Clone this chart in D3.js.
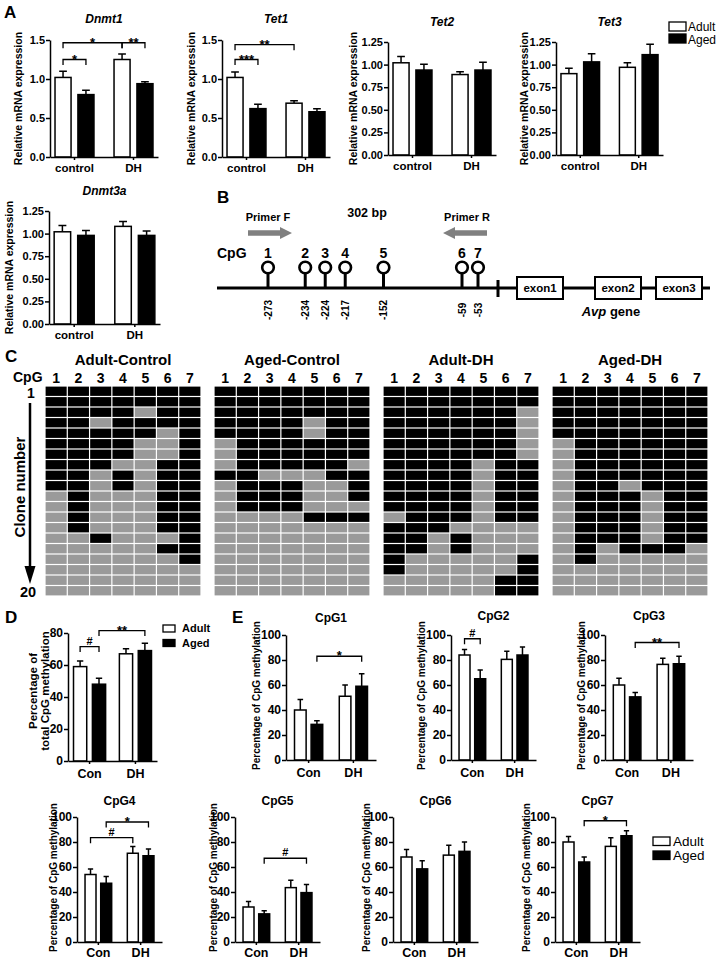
<!DOCTYPE html>
<html><head><meta charset="utf-8">
<script src="https://cdn.jsdelivr.net/npm/d3@7"></script>
<style>body{margin:0;background:#fff} svg{display:block}</style>
</head><body><svg id="fig" width="718" height="959"></svg>
<script>
// ================= DATA =================
const seriesNames = ["Adult","Aged"];
const groupsA = ["control","DH"];
const groupsE = ["Con","DH"];

// Panel A : relative mRNA expression, [control, DH]
const genes = ["Dnmt1","Tet1","Tet2","Tet3","Dnmt3a"];
const geneAdultMean = [[1.02,1.25],[1.02,0.69],[1.02,0.89],[0.90,0.97],[1.02,1.08]];
const geneAdultErr  = [[0.08,0.07],[0.07,0.03],[0.07,0.03],[0.06,0.05],[0.07,0.055]];
const geneAgedMean  = [[0.80,0.94],[0.62,0.58],[0.94,0.94],[1.03,1.11],[0.98,0.98]];
const geneAgedErr   = [[0.055,0.025],[0.055,0.04],[0.065,0.085],[0.09,0.115],[0.055,0.05]];
const geneYMax = [1.5,1.5,1.25,1.25,1.25];
const ticksA15 = [0,0.5,1.0,1.5];
const ticksA125 = [0,0.25,0.5,0.75,1.0,1.25];
// brackets: [fromBar, toBar, value, label]  bars: 0=Adult ctrl,1=Aged ctrl,2=Adult DH,3=Aged DH
const geneBrackets = [
  [[0,1,1.25,"*"],[0,2,1.465,"*"],[2,3,1.465,"**"]],
  [[0,1,1.25,"***"],[0,2,1.44,"**"]],
  [],[],[]
];

// Panel B : CpG sites in Avp promoter
const cpgSites = [1,2,3,4,5,6,7];
const cpgBp = [-273,-234,-224,-217,-152,-59,-53];
const exonNames = ["exon1","exon2","exon3"];

// Panel C : bisulfite clones (1 = methylated, 0 = unmethylated), 20 clones x 7 CpG
const gridTitles = ["Adult-Control","Aged-Control","Adult-DH","Aged-DH"];
const cloneAdultControl = ["1111111","1111111","1111011","1101111","1111101","1111001","1111001","1110011","1101011","1101011",
                           "0100011","0100011","0100011","0100011","0010001","0000011","0000001","0000000","0000000","0000000"];
const cloneAgedControl  = ["1111111","1111111","1111111","1111011","1111011","0111111","0111111","0111110","1100011","0111001",
                           "0111001","0111000","0000111","0000000","0000000","0000000","0000000","0000000","0000000","0000000"];
const cloneAdultDH      = ["1111111","1111111","1111110","1111110","1111110","1111110","1111110","1111011","1111011","1111011",
                           "1111011","1111011","0111011","1110000","1101000","1101000","1000001","1000001","0000011","0000011"];
const cloneAgedDH       = ["1111111","1111111","1111111","1111111","1111111","0111111","0111111","0111111","0111111","0110111",
                           "0111011","0111011","0111011","0111011","0111011","0101110","0100000","0000000","0000000","0000000"];

// Panel D : total CpG methylation (%) [Con, DH]
const totalAdultMean = [59,67], totalAdultErr = [3.5,3.2];
const totalAgedMean  = [48,69], totalAgedErr  = [3.7,4.6];
const totalBrackets = [[0,1,71.5,"#"],[1,3,81.5,"**"]];
const ticksD = [0,20,40,60,80];

// Panel E : per-CpG methylation (%) [Con, DH]
const cpgNames = ["CpG1","CpG2","CpG3","CpG4","CpG5","CpG6","CpG7"];
const cpgAdultMean = [[40,51],[84,80.5],[60,76.5],[54,71],[28,43.5],[68,69.5],[80,76.5]];
const cpgAdultErr  = [[8.5,9],[4.5,6.5],[5.5,5],[4.5,5.5],[4.5,6],[6,8],[4.5,7]];
const cpgAgedMean  = [[28.5,59],[65,84],[50.5,77],[47,69],[22.5,39.5],[58.5,72.5],[64,85]];
const cpgAgedErr   = [[3,10],[7,6.5],[3.5,6],[5.5,5.5],[2.5,6.5],[6.5,7.5],[4,4]];
const cpgBrackets = [
  [[1,3,83,"*"]],
  [[0,1,97,"#"]],
  [[1,3,94,"**"]],
  [[1,3,96,"*"],[0,2,83.5,"#"]],
  [[1,3,67,"#"]],
  [],
  [[1,3,97,"*"]]
];
const ticksE = [0,20,40,60,80,100];

// ================= DRAWING =================
const FONT = '"Liberation Sans", Arial, Helvetica, sans-serif';
const svg = d3.select("#fig");

function txt(x, y, s, size, o = {}) {
  const t = svg.append("text").attr("x", x).attr("y", y).text(s)
    .attr("font-family", FONT).attr("font-size", size)
    .attr("font-weight", o.weight || "bold")
    .attr("text-anchor", o.anchor || "start").attr("fill", "#000");
  if (o.italic) t.attr("font-style", "italic");
  if (o.rotate) t.attr("transform", `rotate(-90,${x},${y})`).attr("dominant-baseline", "central");
  return t;
}

function barChart(o) {
  const g = svg.append("g");
  const y = d3.scaleLinear().domain([0, o.yMax]).range([o.yBottom, o.yTop]);
  const x = d3.scaleBand().domain(o.groups).range([o.x0, o.x1]).paddingInner(o.pi).paddingOuter(o.po);
  const xs = d3.scaleBand().domain(seriesNames).range([0, x.bandwidth()]).paddingInner(o.ps);
  const bars = [];
  o.groups.forEach((gr, i) => {
    seriesNames.forEach((s, j) => {
      bars.push({ x: x(gr) + xs(s), w: xs.bandwidth(), s,
        mean: (j === 0 ? o.adult : o.aged)[i], err: (j === 0 ? o.adultErr : o.agedErr)[i] });
    });
  });
  g.selectAll(".eb").data(bars).join("path")
    .attr("d", d => { const cx = d.x + d.w / 2, cw = d.w * 0.24, yt = y(d.mean + d.err);
      return `M${cx},${y(d.mean)}V${yt}M${cx - cw},${yt}H${cx + cw}`; })
    .attr("stroke", "#000").attr("stroke-width", 1.5).attr("fill", "none");
  g.selectAll(".bar").data(bars).join("rect")
    .attr("x", d => d.x).attr("width", d => d.w)
    .attr("y", d => y(d.mean)).attr("height", d => y(0) - y(d.mean))
    .attr("fill", d => d.s === "Adult" ? "#fff" : "#000")
    .attr("stroke", "#000").attr("stroke-width", 1.5);
  const ya = g.append("g").attr("transform", `translate(${o.x0},0)`)
    .call(d3.axisLeft(y).tickValues(o.ticks).tickFormat(o.fmt).tickSize(4).tickSizeOuter(0));
  const xa = g.append("g").attr("transform", `translate(0,${o.yBottom})`)
    .call(d3.axisBottom(x).tickSize(3).tickSizeOuter(0));
  [ya, xa].forEach(a => {
    a.select(".domain").attr("stroke-width", 1.5);
    a.selectAll(".tick line").attr("stroke-width", 1.5);
    a.selectAll("text").attr("font-family", FONT).attr("font-weight", "bold").attr("fill", "#000");
  });
  ya.selectAll("text").attr("font-size", o.tickFont).attr("x", -5);
  xa.selectAll("text").attr("font-size", o.catFont).attr("y", o.catDy);
  (o.brackets || []).forEach(b => {
    const xa_ = bars[b[0]].x + bars[b[0]].w / 2, xb_ = bars[b[1]].x + bars[b[1]].w / 2, yb = y(b[2]);
    g.append("path").attr("d", `M${xa_},${yb + 5.5}V${yb}H${xb_}V${yb + 5.5}`)
      .attr("stroke", "#000").attr("stroke-width", 1.3).attr("fill", "none");
    txt((xa_ + xb_) / 2, yb - (b[3] === "#" ? 2 : -4), b[3], b[3] === "#" ? 11 : 13, { anchor: "middle" });
  });
  if (o.title) txt((o.x0 + o.x1) / 2, o.titleY, o.title, o.titleFont, { anchor: "middle", italic: o.italic });
  if (o.ylabel) o.ylabel.forEach((l, i) =>
    txt(o.ylX[i], (o.yTop + o.yBottom) / 2 + (o.ylDy || 0), l, o.ylFont, { anchor: "middle", rotate: true }));
  return { x, y };
}

// ---------- Panel A ----------
txt(4, 18, "A", 17);
const aLayout = [
  { x0: 50, x1: 158, yTop: 40, yBottom: 157, ylX: 18, titleY: 23 },
  { x0: 222, x1: 330, yTop: 40, yBottom: 157, ylX: 191, titleY: 23 },
  { x0: 388, x1: 496, yTop: 42, yBottom: 155, ylX: 353, titleY: 26 },
  { x0: 556, x1: 663, yTop: 42, yBottom: 155, ylX: 524, titleY: 26 },
  { x0: 49, x1: 160, yTop: 211, yBottom: 324, ylX: 9, titleY: 195 }
];
genes.forEach((gname, i) => {
  const L = aLayout[i];
  barChart(Object.assign({}, L, {
    yMax: geneYMax[i], ticks: geneYMax[i] === 1.5 ? ticksA15 : ticksA125,
    fmt: geneYMax[i] === 1.5 ? d3.format(".1f") : d3.format(".2f"),
    groups: groupsA, adult: geneAdultMean[i], adultErr: geneAdultErr[i],
    aged: geneAgedMean[i], agedErr: geneAgedErr[i], brackets: geneBrackets[i],
    pi: 0.34, po: 0.085, ps: 0.3, tickFont: 11, catFont: 11.5, catDy: 7,
    title: gname, titleFont: 12, italic: true,
    ylabel: ["Relative mRNA expression"], ylX: [L.ylX], ylFont: 10.5
  }));
});
seriesNames.forEach((s, i) => {
  svg.append("rect").attr("x", 669).attr("y", 22 + i * 12).attr("width", 17).attr("height", 9)
    .attr("fill", i ? "#000" : "#fff").attr("stroke", "#000").attr("stroke-width", 1.3);
  txt(688, 31 + i * 12.5, s, 12, { weight: "normal" });
});

// ---------- Panel B ----------
txt(217, 203, "B", 17);
const lineY = 288;
const bpX = d3.scaleLinear().domain(d3.extent(cpgBp)).range([268, 478]);
const siteX = cpgBp.map(b => bpX(b));
for (let i = 1; i < siteX.length; i++) if (siteX[i] - siteX[i - 1] < 20) siteX[i] = siteX[i - 1] + 20;
siteX[siteX.length - 1] = Math.min(siteX[siteX.length - 1], bpX.range()[1]);
for (let i = siteX.length - 2; i >= 0; i--) if (siteX[i + 1] - siteX[i] < 16) siteX[i] = siteX[i + 1] - 16;
svg.append("line").attr("x1", 217).attr("x2", 710).attr("y1", lineY).attr("y2", lineY)
  .attr("stroke", "#000").attr("stroke-width", 3);
cpgSites.forEach((s, i) => {
  const cx = siteX[i];
  svg.append("line").attr("x1", cx).attr("x2", cx).attr("y1", lineY).attr("y2", 274).attr("stroke", "#000").attr("stroke-width", 3);
  svg.append("circle").attr("cx", cx).attr("cy", 267.5).attr("r", 5.8).attr("fill", "#fff").attr("stroke", "#000").attr("stroke-width", 2.6);
  txt(cx, 258, s, 14, { anchor: "middle" });
  txt(cx, 310, String(cpgBp[i]), 10, { anchor: "middle", rotate: true });
});
txt(217, 258, "CpG", 14);
function arrow(xs, xe, yy) {
  const dir = Math.sign(xe - xs), hl = 12 * dir;
  svg.append("path").attr("d",
    `M${xs},${yy - 2.8}H${xe - hl}V${yy - 6}L${xe},${yy}L${xe - hl},${yy + 6}V${yy + 2.8}H${xs}Z`)
    .attr("fill", "#808080");
}
arrow(248, 292, 233);
arrow(487, 443, 233);
txt(268, 221, "Primer F", 11, { anchor: "middle" });
txt(467, 221, "Primer R", 11, { anchor: "middle" });
txt(367, 217, "302 bp", 12.5, { anchor: "middle" });
svg.append("line").attr("x1", 498).attr("x2", 498).attr("y1", 280).attr("y2", 297).attr("stroke", "#000").attr("stroke-width", 3);
const exonSpan = [[517, 563], [595, 641], [656, 702]];
exonNames.forEach((e, i) => {
  svg.append("rect").attr("x", exonSpan[i][0]).attr("y", 277).attr("width", exonSpan[i][1] - exonSpan[i][0]).attr("height", 22)
    .attr("fill", "#fff").attr("stroke", "#000").attr("stroke-width", 2);
  txt((exonSpan[i][0] + exonSpan[i][1]) / 2, 292, e, 11.5, { anchor: "middle" });
});
const avp = txt(611, 316, "", 13, { anchor: "middle" });
avp.append("tspan").attr("font-style", "italic").text("Avp");
avp.append("tspan").text(" gene");

// ---------- Panel C ----------
txt(5, 362, "C", 17);
const clones = [cloneAdultControl, cloneAgedControl, cloneAdultDH, cloneAgedDH];
const gx = d3.scaleBand().domain(d3.range(4)).range([45, 708]).paddingInner(0.077);
const rowY = d3.scaleBand().domain(d3.range(1, 21)).range([386, 596]);
clones.forEach((rows, k) => {
  const colX = d3.scaleBand().domain(cpgSites).range([gx(k), gx(k) + gx.bandwidth()]);
  const cells = [];
  rows.forEach((r, ri) => r.split("").forEach((v, ci) => cells.push({ r: ri + 1, c: cpgSites[ci], v: +v })));
  svg.append("g").selectAll("rect").data(cells).join("rect")
    .attr("x", d => colX(d.c) + 0.6).attr("y", d => rowY(d.r) + 0.6)
    .attr("width", colX.bandwidth() - 1.2).attr("height", rowY.bandwidth() - 1.2)
    .attr("fill", d => d.v ? "#000" : "#9a9a9a");
  txt(gx(k) + gx.bandwidth() / 2, 365, gridTitles[k], 15, { anchor: "middle" });
  cpgSites.forEach(s => txt(colX(s) + colX.bandwidth() / 2, 383, s, 14, { anchor: "middle" }));
});
txt(13, 382, "CpG", 14);
txt(31, 398, "1", 14, { anchor: "middle" });
txt(28, 597, "20", 14.5, { anchor: "middle" });
svg.append("line").attr("x1", 30).attr("x2", 30).attr("y1", 403).attr("y2", 570).attr("stroke", "#000").attr("stroke-width", 2.5);
svg.append("path").attr("d", "M24.5,566L35.5,566L30,584Z").attr("fill", "#000");
txt(19, 487, "Clone number", 15, { anchor: "middle", rotate: true });

// ---------- Panel D ----------
txt(5, 623, "D", 17);
barChart({
  x0: 68, x1: 157, yTop: 633, yBottom: 761, yMax: 80, ticks: ticksD, fmt: d3.format("d"),
  groups: groupsE, adult: totalAdultMean, adultErr: totalAdultErr, aged: totalAgedMean, agedErr: totalAgedErr,
  brackets: totalBrackets, pi: 0.3, po: 0.12, ps: 0.3, tickFont: 12, catFont: 12.5, catDy: 8,
  ylabel: ["Percentage of", "total CpG methylation"], ylX: [33, 45], ylFont: 11.5, ylDy: -6
});
seriesNames.forEach((s, i) => {
  svg.append("rect").attr("x", 163).attr("y", 625 + i * 14.5).attr("width", 12).attr("height", 7)
    .attr("fill", i ? "#000" : "#fff").attr("stroke", "#000").attr("stroke-width", 1.3);
  txt(182, 632 + i * 14.5, s, 11);
});

// ---------- Panel E ----------
txt(232, 623, "E", 17);
const eLayout = [
  { x0: 286, x1: 376, yTop: 635, yBottom: 760, ylX: 256, titleY: 622, catDy: 8 },
  { x0: 451, x1: 536, yTop: 635, yBottom: 760, ylX: 421, titleY: 620, catDy: 8 },
  { x0: 605, x1: 693, yTop: 635, yBottom: 760, ylX: 581, titleY: 620, catDy: 8 },
  { x0: 77, x1: 162, yTop: 817, yBottom: 942, ylX: 53, titleY: 805, catDy: 6 },
  { x0: 235, x1: 320, yTop: 817, yBottom: 942, ylX: 213, titleY: 805, catDy: 6 },
  { x0: 393, x1: 478, yTop: 817, yBottom: 942, ylX: 366, titleY: 805, catDy: 6 },
  { x0: 555, x1: 640, yTop: 817, yBottom: 942, ylX: 526, titleY: 805, catDy: 6 }
];
cpgNames.forEach((n, i) => {
  const L = eLayout[i];
  barChart(Object.assign({}, L, {
    yMax: 100, ticks: ticksE, fmt: d3.format("d"), groups: groupsE,
    adult: cpgAdultMean[i], adultErr: cpgAdultErr[i], aged: cpgAgedMean[i], agedErr: cpgAgedErr[i],
    brackets: cpgBrackets[i], pi: 0.37, po: 0.19, ps: 0.3, tickFont: 12, catFont: 12.5,
    title: n, titleFont: 12, italic: false,
    ylabel: ["Percentage of CpG methylation"], ylX: [L.ylX], ylFont: 10, ylDy: -2
  }));
});
seriesNames.forEach((s, i) => {
  svg.append("rect").attr("x", 653).attr("y", 837 + i * 14).attr("width", 17).attr("height", 8.5)
    .attr("fill", i ? "#000" : "#fff").attr("stroke", "#000").attr("stroke-width", 1.3);
  txt(673, 846 + i * 14, s, 13.5, { weight: "normal" });
});
</script>
</body></html>
